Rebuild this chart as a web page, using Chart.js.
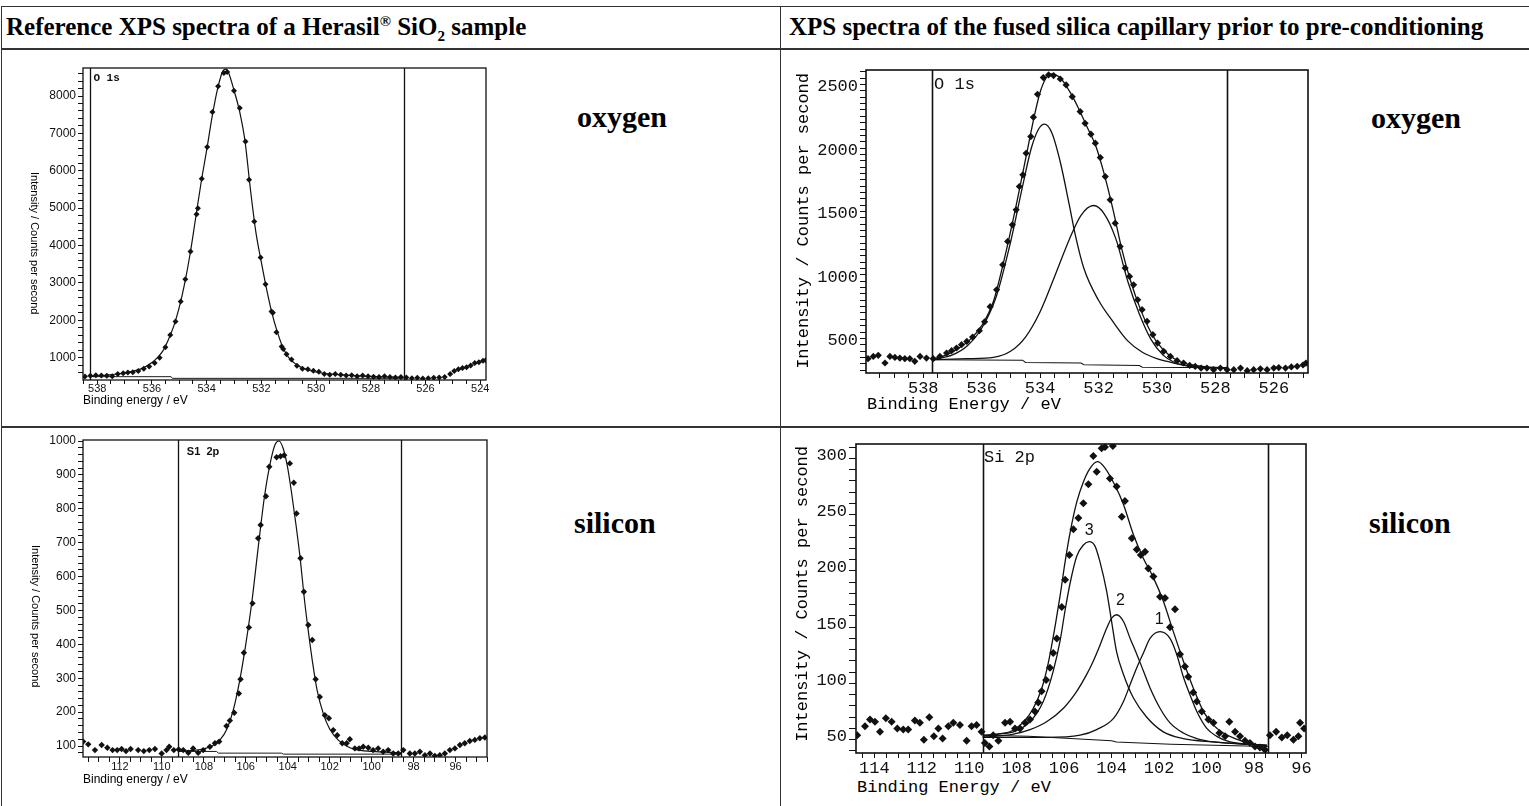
<!DOCTYPE html>
<html>
<head>
<meta charset="utf-8">
<script src="https://cdn.jsdelivr.net/npm/chart.js@4.4.1/dist/chart.umd.min.js"></script>
<style>
  body { margin: 0; background: #fff; width: 1529px; height: 806px; position: relative; overflow: hidden; }
  .rule { position: absolute; background: #333; }
  .head { position: absolute; font: bold 25px 'Liberation Serif', 'Times New Roman', serif; line-height: 25px; white-space: nowrap; color: #000; }
  .head sup, .head sub { font-size: 15px; line-height: 0; }
  .elem { position: absolute; font: bold 30px 'Liberation Serif', 'Times New Roman', serif; line-height: 30px; color: #000; }
  .plot { position: absolute; }
  .xt-s { position: absolute; font: 12px 'Liberation Sans', Arial, sans-serif; line-height: 12px; white-space: nowrap; }
  .yt-s { position: absolute; font: 11px 'Liberation Sans', Arial, sans-serif; line-height: 12px; writing-mode: vertical-rl; white-space: nowrap; }
  .xt-m { position: absolute; font: 17px 'Liberation Mono', 'DejaVu Sans Mono', monospace; line-height: 17px; white-space: nowrap; }
  .yt-m { position: absolute; font: 17px 'Liberation Mono', 'DejaVu Sans Mono', monospace; line-height: 18px; writing-mode: vertical-rl; transform: rotate(180deg); white-space: nowrap; }
</style>
</head>
<body>

<div class="rule" style="left:1px; top:6px; width:1528px; height:1px;"></div>
<div class="rule" style="left:1px; top:48px; width:1528px; height:2px;"></div>
<div class="rule" style="left:1px; top:426px; width:1528px; height:2px;"></div>
<div class="rule" style="left:1px; top:6px; width:1px; height:800px;"></div>
<div class="rule" style="left:780px; top:6px; width:1px; height:800px;"></div>

<div class="head" style="left:6px; top:14px;">Reference XPS spectra of a Herasil<sup>®</sup> SiO<sub>2</sub> sample</div>
<div class="head" style="left:789px; top:14px;">XPS spectra of the fused silica capillary prior to pre-conditioning</div>

<div class="elem" style="left:577px; top:102px;">oxygen</div>
<div class="elem" style="left:1371px; top:103px;">oxygen</div>
<div class="elem" style="left:574px; top:508px;">silicon</div>
<div class="elem" style="left:1369px; top:508px;">silicon</div>

<div class="plot" id="p1"><canvas id="c1"></canvas></div>
<div class="plot" id="p2"><canvas id="c2"></canvas></div>
<div class="plot" id="p3"><canvas id="c3"></canvas></div>
<div class="plot" id="p4"><canvas id="c4"></canvas></div>

<div class="yt-s" style="left:29px; top:172px;">Intensity / Counts per second</div>
<div class="xt-s" style="left:83px; top:394px;">Binding energy / eV</div>
<div class="yt-s" style="left:30px; top:545px;">Intensity / Counts per second</div>
<div class="xt-s" style="left:83px; top:773px;">Binding energy / eV</div>
<div class="yt-m" style="left:795px; top:73px;">Intensity / Counts per second</div>
<div class="xt-m" style="left:867px; top:396px;">Binding Energy / eV</div>
<div class="yt-m" style="left:794px; top:446px;">Intensity / Counts per second</div>
<div class="xt-m" style="left:857px; top:779px;">Binding Energy / eV</div>

<script>
// ---------- O 1s, Herasil reference (top left) ----------
const o1sRefPoints = [
  [538.45, 495], [538.25, 518], [538.05, 530], [537.85, 520], [537.65, 515], [537.45, 500],
  [537.25, 560], [537.05, 580], [536.88, 600], [536.7, 610], [536.5, 640], [536.3, 700],
  [536.1, 760], [535.9, 860], [535.72, 1000], [535.51, 1277], [535.33, 1607], [535.14, 1964],
  [534.95, 2500], [534.78, 3098], [534.59, 3839], [534.37, 4839], [534.32, 5000], [534.18, 5786],
  [533.98, 6634], [533.79, 7571], [533.58, 8259], [533.37, 8616], [533.25, 8643], [533.0, 8143],
  [532.79, 7679], [532.58, 6786], [532.45, 5759], [532.26, 4643], [532.03, 3679], [531.85, 2964],
  [531.63, 2232], [531.58, 2200], [531.45, 1679], [531.26, 1295], [531.2, 1230], [531.08, 1089],
  [530.9, 950], [530.7, 780], [530.5, 700], [530.3, 690], [530.1, 650], [529.9, 620],
  [529.7, 560], [529.5, 540], [529.3, 560], [529.1, 540], [528.9, 520], [528.7, 530],
  [528.5, 500], [528.3, 520], [528.1, 500], [527.9, 490], [527.7, 480], [527.5, 500],
  [527.3, 480], [527.1, 470], [526.9, 480], [526.7, 470], [526.5, 450], [526.3, 460],
  [526.1, 440], [525.9, 450], [525.7, 460], [525.5, 470], [525.3, 480], [525.1, 560],
  [524.95, 640], [524.8, 690], [524.65, 720], [524.5, 740], [524.35, 790], [524.2, 860],
  [524.05, 880], [523.9, 920], [523.8, 930]
];
const o1sRefFit = [
  [538.26, 500], [537.8, 525], [537.2, 570], [536.8, 620], [536.4, 700], [536.0, 870],
  [535.8, 1000], [535.6, 1180], [535.4, 1480], [535.2, 1850], [535.0, 2350], [534.8, 3000],
  [534.6, 3800], [534.4, 4750], [534.2, 5700], [534.0, 6550], [533.8, 7450], [533.6, 8200],
  [533.4, 8680], [533.3, 8720], [533.2, 8620], [533.0, 8150], [532.8, 7600], [532.6, 6800],
  [532.4, 5500], [532.2, 4350], [532.0, 3550], [531.8, 2800], [531.6, 2150], [531.4, 1650],
  [531.2, 1250], [531.0, 1000], [530.8, 860], [530.6, 760], [530.2, 650], [529.8, 590],
  [529.0, 540], [528.0, 500], [526.8, 470]
];
const o1sRefBackground = [[538.26, 491], [535.3, 491], [535.25, 446], [526.8, 446]];
const o1sRefWindow = [538.26, 526.8];
const o1sRefNotes = [[538.14, 8620, 'O 1s']];
const o1sRefXLabels = [538, 536, 534, 532, 530, 528, 526, 524];
const o1sRefYLabels = [1000, 2000, 3000, 4000, 5000, 6000, 7000, 8000];

// ---------- O 1s, fused silica capillary (top right) ----------
const o1sCapPoints = [
  [539.89, 390], [539.71, 408], [539.54, 416], [539.31, 356], [539.14, 408], [538.97, 400],
  [538.80, 395], [538.63, 390], [538.46, 390], [538.29, 369], [538.11, 408], [537.89, 395],
  [537.66, 390], [537.43, 408], [537.20, 434], [537.03, 453], [536.86, 474], [536.69, 500],
  [536.51, 526], [536.31, 560], [536.08, 610], [535.9, 680], [535.71, 800], [535.49, 933],
  [535.28, 1130], [535.11, 1314], [534.95, 1445], [534.82, 1563], [534.71, 1747], [534.59, 1839],
  [534.48, 2009], [534.32, 2140], [534.23, 2293], [534.09, 2474], [533.89, 2605], [533.71, 2626],
  [533.54, 2621], [533.31, 2594], [533.11, 2547], [532.90, 2455], [532.63, 2337], [532.46, 2245],
  [532.26, 2159], [532.11, 2088], [531.94, 1975], [531.77, 1825], [531.60, 1642], [531.43, 1458],
  [531.26, 1274], [531.09, 1104], [530.94, 1038], [530.80, 972], [530.66, 854], [530.51, 776],
  [530.34, 684], [530.14, 579], [529.98, 513], [529.77, 448], [529.54, 408], [529.31, 374],
  [529.09, 356], [528.88, 337], [528.69, 329], [528.49, 316], [528.29, 316], [528.06, 303],
  [527.83, 316], [527.60, 303], [527.37, 303], [527.14, 316], [526.91, 295], [526.69, 303],
  [526.46, 310], [526.23, 303], [526.00, 316], [525.83, 320], [525.6, 316], [525.4, 325],
  [525.2, 330], [525.0, 340], [524.9, 355]
];
const o1sCapFit = [
  [537.66, 388], [537.2, 420], [536.8, 470], [536.4, 540], [536.0, 650], [535.6, 840],
  [535.2, 1200], [534.8, 1620], [534.5, 1960], [534.2, 2300], [534.0, 2490], [533.8, 2600],
  [533.6, 2635], [533.3, 2600], [533.0, 2500], [532.7, 2370], [532.4, 2220], [532.1, 2070],
  [531.8, 1840], [531.5, 1560], [531.2, 1250], [530.9, 1000], [530.6, 800], [530.3, 640],
  [530.0, 520], [529.6, 420], [529.2, 365], [528.8, 340], [528.3, 325], [527.6, 318]
];
const o1sCapPeakA = [
  [537.66, 385], [537.0, 420], [536.5, 490], [536.0, 630], [535.5, 880], [535.0, 1320],
  [534.6, 1750], [534.3, 2050], [534.05, 2200], [533.85, 2238], [533.6, 2170], [533.3, 1930],
  [533.0, 1600], [532.8, 1370], [532.5, 1100], [532.0, 850], [531.5, 680], [531.0, 530],
  [530.5, 440], [530.0, 390], [529.5, 360], [529.0, 335], [528.5, 322], [527.6, 316]
];
const o1sCapPeakB = [
  [537.66, 382], [536.5, 390], [535.6, 400], [535.0, 450], [534.5, 560], [534.0, 760],
  [533.5, 1040], [533.0, 1330], [532.6, 1520], [532.17, 1597], [531.8, 1530], [531.4, 1330],
  [531.0, 1000], [530.6, 740], [530.2, 540], [529.8, 420], [529.4, 360], [529.0, 335],
  [528.5, 322], [527.6, 316]
];
const o1sCapBackground = [
  [537.7, 382], [534.6, 378], [534.5, 360], [532.6, 355], [532.5, 342], [530.6, 336],
  [530.5, 322], [527.6, 318]
];
const o1sCapWindow = [537.7, 527.6];
const o1sCapNotes = [[537.63, 2618, 'O 1s']];
const o1sCapXLabels = [538, 536, 534, 532, 530, 528, 526];
const o1sCapYLabels = [500, 1000, 1500, 2000, 2500];

// ---------- Si 2p, Herasil reference (bottom left) ----------
const si2pRefPoints = [
  [113.75, 113], [113.51, 105], [113.19, 88], [112.87, 103], [112.60, 95], [112.35, 88],
  [112.13, 88], [111.92, 91], [111.71, 85], [111.49, 91], [111.13, 88], [110.86, 85],
  [110.60, 88], [110.33, 91], [110.01, 78], [109.78, 88], [109.65, 98], [109.43, 88],
  [109.2, 90], [108.98, 88], [108.74, 80], [108.51, 93], [108.27, 80], [108.03, 88],
  [107.71, 98], [107.47, 108], [107.27, 113], [106.92, 159], [106.76, 175], [106.55, 198],
  [106.33, 255], [106.25, 297], [106.09, 375], [105.85, 450], [105.68, 521], [105.41, 713],
  [105.29, 752], [105.04, 837], [104.88, 924], [104.53, 952], [104.34, 955], [104.17, 958],
  [103.90, 934], [103.71, 877], [103.58, 786], [103.39, 654], [103.23, 555], [103.02, 457],
  [102.83, 413], [102.67, 297], [102.47, 245], [102.23, 191], [102.04, 182], [101.83, 147],
  [101.64, 132], [101.40, 108], [101.19, 108], [101.04, 120], [100.80, 93], [100.60, 93],
  [100.40, 98], [100.16, 95], [99.93, 88], [99.69, 93], [99.45, 83], [99.21, 88],
  [98.97, 78], [98.73, 78], [98.49, 88], [98.18, 78], [97.94, 78], [97.70, 83],
  [97.46, 73], [97.22, 78], [96.99, 71], [96.75, 73], [96.51, 78], [96.27, 88],
  [96.03, 93], [95.79, 103], [95.56, 108], [95.32, 115], [95.08, 118], [94.84, 123],
  [94.60, 125]
];
const si2pRefFit = [
  [109.22, 85], [108.5, 87], [108.0, 92], [107.6, 100], [107.2, 120], [106.9, 150],
  [106.6, 205], [106.3, 290], [106.0, 400], [105.7, 530], [105.4, 690], [105.1, 840],
  [104.8, 945], [104.6, 990], [104.42, 1000], [104.2, 975], [104.0, 920], [103.8, 840],
  [103.6, 750], [103.4, 650], [103.2, 530], [103.0, 430], [102.8, 340], [102.6, 265],
  [102.3, 195], [102.0, 150], [101.6, 118], [101.2, 100], [100.8, 90], [100.0, 84],
  [98.6, 80]
];
const si2pRefBackground = [[109.22, 84], [107.4, 84], [107.3, 79], [104.3, 79], [104.2, 76], [98.6, 76]];
const si2pRefWindow = [109.22, 98.6];
const si2pRefNotes = [[108.81, 985, 'S1  2p']];
const si2pRefXLabels = [112, 110, 108, 106, 104, 102, 100, 98, 96];
const si2pRefYLabels = [100, 200, 300, 400, 500, 600, 700, 800, 900, 1000];

// ---------- Si 2p, fused silica capillary (bottom right) ----------
const si2pCapPoints = [
  [114.72, 54], [114.39, 62], [114.18, 68], [113.97, 66], [113.76, 57], [113.51, 69],
  [113.27, 66], [113.03, 60], [112.78, 59], [112.57, 59], [112.29, 67], [112.08, 65],
  [111.91, 50], [111.68, 70], [111.49, 53], [111.30, 60], [111.12, 51], [110.88, 62],
  [110.67, 65], [110.39, 63], [110.11, 49], [109.90, 62], [109.69, 63], [109.48, 57],
  [109.34, 47], [109.15, 44], [108.99, 54], [108.77, 49], [108.49, 65], [108.28, 66],
  [108.07, 60], [107.86, 60], [107.65, 65], [107.44, 68], [107.23, 75], [107.09, 83],
  [106.95, 93], [106.76, 103], [106.60, 114], [106.46, 127], [106.31, 140], [106.10, 168],
  [105.96, 192], [105.78, 214], [105.61, 237], [105.40, 247], [105.19, 260], [104.98, 277],
  [104.77, 302], [104.63, 288], [104.42, 309], [104.28, 310], [104.07, 282], [103.95, 311],
  [103.79, 275], [103.57, 248], [103.44, 262], [103.15, 229], [102.94, 219], [102.77, 214],
  [102.59, 217], [102.45, 202], [102.24, 195], [101.96, 177], [101.75, 176], [101.54, 150],
  [101.33, 166], [101.12, 126], [100.91, 115], [100.77, 106], [100.56, 92], [100.41, 84],
  [100.20, 75], [99.92, 68], [99.71, 65], [99.46, 56], [99.22, 53], [99.04, 66],
  [98.80, 57], [98.59, 53], [98.38, 49], [98.17, 47], [97.96, 44], [97.75, 43],
  [97.54, 41], [97.33, 54], [97.07, 57], [96.83, 52], [96.60, 54], [96.34, 50],
  [96.13, 53], [96.06, 65], [95.89, 60]
];
const si2pCapFit = [
  [109.43, 54], [108.8, 55], [108.2, 58], [107.7, 66], [107.3, 78], [106.95, 95],
  [106.67, 118], [106.38, 151], [106.17, 178], [105.96, 208], [105.75, 234], [105.47, 261],
  [105.19, 279], [104.91, 291], [104.6, 297], [104.3, 292], [103.86, 276], [103.5, 259],
  [103.08, 232], [102.66, 211], [102.24, 194], [101.82, 173], [101.4, 146], [100.98, 120],
  [100.56, 96], [100.13, 75], [99.71, 63], [99.29, 56], [98.8, 51], [98.2, 47], [97.45, 44]
];
const si2pCapPeak3 = [
  [109.43, 53], [108.8, 55], [108.14, 57], [107.44, 66], [106.88, 84], [106.46, 111],
  [106.17, 138], [105.96, 165], [105.75, 189], [105.47, 213], [105.19, 223], [104.94, 226],
  [104.70, 222], [104.49, 208], [104.21, 182], [104.0, 155], [103.79, 128], [103.5, 108],
  [103.08, 87], [102.52, 70], [101.82, 57], [100.98, 51], [99.71, 48], [98.5, 46], [97.45, 45]
];
const si2pCapPeak2 = [
  [109.43, 52], [108.14, 55], [107.44, 59], [106.74, 66], [106.03, 78], [105.47, 93],
  [105.05, 108], [104.77, 120], [104.49, 134], [104.21, 149], [104.0, 158], [103.79, 161],
  [103.5, 155], [103.22, 140], [102.94, 126], [102.66, 111], [102.38, 96], [101.96, 78],
  [101.54, 65], [100.98, 56], [100.41, 51], [99.71, 48], [99.0, 47], [97.45, 45]
];
const si2pCapPeak1 = [
  [109.43, 52], [106.74, 52], [105.33, 54], [104.63, 59], [103.92, 69], [103.5, 84],
  [103.22, 99], [102.94, 114], [102.66, 127], [102.38, 140], [101.96, 146], [101.54, 140],
  [101.26, 126], [100.98, 106], [100.70, 90], [100.41, 75], [99.99, 60], [99.57, 53],
  [99.01, 48], [98.2, 46], [97.45, 45]
];
const si2pCapBackground = [[109.43, 54], [107.5, 53], [106.5, 52], [104.0, 49], [103.8, 48], [101.5, 46], [97.42, 44]];
const si2pCapWindow = [109.43, 97.42];
const si2pCapNotes = [[109.38, 308, 'Si 2p']];
const si2pCapPeakLabels = [[104.94, 236, '3'], [103.63, 174, '2'], [101.99, 157, '1']];
const si2pCapXLabels = [114, 112, 110, 108, 106, 104, 102, 100, 98, 96];
const si2pCapYLabels = [50, 100, 150, 200, 250, 300];

// ---------- drawing ----------
const INK = '#111';
const sansFont = "'Liberation Sans', Arial, sans-serif";
const monoFont = "'Liberation Mono', 'DejaVu Sans Mono', monospace";

function xy(arr) {
  return arr.map(([x, y]) => ({ x: x, y: y }));
}

// tick marks every `step` inside [min, max]
function marks(min, max, step) {
  const out = [];
  for (let k = Math.ceil(min / step); k * step <= max + 1e-9; k++) {
    out.push(Math.round(k * step * 1000) / 1000);
  }
  return out;
}

const framePlugin = {
  id: 'frame',
  afterDatasetsDraw(chart, args, opts) {
    const { ctx, chartArea: a, scales } = chart;
    const x = scales.x, y = scales.y;
    ctx.save();
    ctx.strokeStyle = INK;
    ctx.lineWidth = opts.lineWidth;
    ctx.strokeRect(a.left, a.top, a.right - a.left, a.bottom - a.top);
    opts.window.forEach((e) => {
      const px = Math.round(x.getPixelForValue(e)) + 0.5;
      ctx.beginPath();
      ctx.moveTo(px, a.top);
      ctx.lineTo(px, a.bottom);
      ctx.stroke();
    });
    ctx.fillStyle = INK;
    ctx.font = opts.noteFont;
    ctx.textAlign = 'left';
    ctx.textBaseline = 'top';
    opts.notes.forEach(([e, v, text]) => {
      ctx.fillText(text, x.getPixelForValue(e), y.getPixelForValue(v));
    });
    ctx.font = opts.peakFont || opts.noteFont;
    ctx.textAlign = 'center';
    ctx.textBaseline = 'middle';
    (opts.peakNotes || []).forEach(([e, v, text]) => {
      ctx.fillText(text, x.getPixelForValue(e), y.getPixelForValue(v));
    });
    ctx.restore();
  }
};

function lineSet(arr, width, curved) {
  return {
    data: xy(arr),
    showLine: true,
    pointRadius: 0,
    borderColor: INK,
    borderWidth: width,
    cubicInterpolationMode: curved ? 'monotone' : 'default',
    tension: 0,
    fill: false
  };
}

function makePanel(p) {
  const wrap = document.getElementById(p.id);
  const w = p.ml + (p.R - p.L) + p.mr;
  const h = p.mt + (p.B - p.T) + p.mb;
  wrap.style.left = (p.L - p.ml) + 'px';
  wrap.style.top = (p.T - p.mt) + 'px';
  const canvas = wrap.querySelector('canvas');
  canvas.width = w;
  canvas.height = h;
  canvas.style.width = w + 'px';
  canvas.style.height = h + 'px';

  const datasets = [{
    data: xy(p.points),
    showLine: false,
    pointStyle: 'rectRot',
    pointRadius: p.pointRadius,
    backgroundColor: INK,
    borderColor: INK,
    borderWidth: 0
  }];
  p.curves.forEach((c) => datasets.push(lineSet(c, p.lineWidth, true)));
  datasets.push(lineSet(p.background, p.lineWidth * 0.8, false));

  new Chart(canvas, {
    type: 'scatter',
    data: { datasets: datasets },
    options: {
      responsive: false,
      animation: false,
      devicePixelRatio: 1,
      events: [],
      layout: { padding: { left: 0, top: p.mt, right: p.mr, bottom: 0 } },
      plugins: {
        legend: { display: false },
        tooltip: { enabled: false },
        frame: {
          lineWidth: p.frameWidth,
          window: p.window,
          notes: p.notes,
          noteFont: p.noteFont,
          peakNotes: p.peakNotes,
          peakFont: p.peakFont
        }
      },
      scales: {
        x: {
          type: 'linear',
          reverse: true,
          min: p.xMin,
          max: p.xMax,
          afterBuildTicks: (axis) => { axis.ticks = marks(p.xMin, p.xMax, p.xMinor).map((v) => ({ value: v })); },
          afterFit: (axis) => { axis.height = p.mb; },
          ticks: {
            autoSkip: false,
            maxRotation: 0,
            minRotation: 0,
            padding: p.xPad,
            color: INK,
            font: p.xFont,
            callback: (v) => (p.xLabels.includes(v) ? String(v) : '')
          },
          grid: { drawOnChartArea: false, drawTicks: true, tickLength: p.xTick, tickColor: INK, tickWidth: 1 },
          border: { display: false }
        },
        y: {
          type: 'linear',
          min: p.yMin,
          max: p.yMax,
          afterBuildTicks: (axis) => { axis.ticks = marks(p.yMin, p.yMax, p.yMinor).map((v) => ({ value: v })); },
          afterFit: (axis) => { axis.width = p.ml; },
          ticks: {
            autoSkip: false,
            padding: 2,
            labelOffset: p.yLabelOffset,
            color: INK,
            font: p.yFont,
            callback: (v) => (p.yLabels.includes(v) ? String(v) : '')
          },
          grid: { drawOnChartArea: false, drawTicks: true, tickLength: p.yTick, tickColor: INK, tickWidth: 1 },
          border: { display: false }
        }
      }
    },
    plugins: [framePlugin]
  });
}

makePanel({
  id: 'p1', L: 83, T: 68, R: 486, B: 380, ml: 63, mt: 15, mr: 14, mb: 22,
  xMin: 523.79, xMax: 538.52, yMin: 402, yMax: 8750, xMinor: 0.5, yMinor: 200,
  xLabels: o1sRefXLabels, yLabels: o1sRefYLabels,
  points: o1sRefPoints, curves: [o1sRefFit], background: o1sRefBackground,
  window: o1sRefWindow, notes: o1sRefNotes, noteFont: 'bold 11px ' + monoFont,
  pointRadius: 3, lineWidth: 1.2, frameWidth: 1.3,
  xFont: { family: sansFont, size: 11 }, yFont: { family: sansFont, size: 12 },
  xTick: 4, yTick: 5, xPad: -2, yLabelOffset: 0
});

makePanel({
  id: 'p2', L: 866, T: 70, R: 1308, B: 373, ml: 60, mt: 15, mr: 14, mb: 24,
  xMin: 524.83, xMax: 539.96, yMin: 277, yMax: 2665, xMinor: 0.5, yMinor: 50,
  xLabels: o1sCapXLabels, yLabels: o1sCapYLabels,
  points: o1sCapPoints, curves: [o1sCapFit, o1sCapPeakA, o1sCapPeakB], background: o1sCapBackground,
  window: o1sCapWindow, notes: o1sCapNotes, noteFont: '17px ' + monoFont,
  pointRadius: 3.6, lineWidth: 1.3, frameWidth: 1.6,
  xFont: { family: monoFont, size: 17 }, yFont: { family: monoFont, size: 17 },
  xTick: 5, yTick: 6, xPad: 0, yLabelOffset: -4
});

makePanel({
  id: 'p3', L: 83, T: 440, R: 487, B: 757, ml: 63, mt: 15, mr: 14, mb: 22,
  xMin: 94.5, xMax: 113.76, yMin: 67.6, yMax: 1003, xMinor: 0.5, yMinor: 20,
  xLabels: si2pRefXLabels, yLabels: si2pRefYLabels,
  points: si2pRefPoints, curves: [si2pRefFit], background: si2pRefBackground,
  window: si2pRefWindow, notes: si2pRefNotes, noteFont: 'bold 11px ' + sansFont,
  pointRadius: 3.2, lineWidth: 1.2, frameWidth: 1.3,
  xFont: { family: sansFont, size: 11 }, yFont: { family: sansFont, size: 12 },
  xTick: 5, yTick: 5, xPad: -2, yLabelOffset: 0
});

makePanel({
  id: 'p4', L: 856, T: 444, R: 1306, B: 753, ml: 58, mt: 15, mr: 14, mb: 24,
  xMin: 95.81, xMax: 114.77, yMin: 38.2, yMax: 312.7, xMinor: 0.5, yMinor: 10,
  xLabels: si2pCapXLabels, yLabels: si2pCapYLabels,
  points: si2pCapPoints, curves: [si2pCapFit, si2pCapPeak3, si2pCapPeak2, si2pCapPeak1], background: si2pCapBackground,
  window: si2pCapWindow, notes: si2pCapNotes, noteFont: '17px ' + monoFont,
  peakNotes: si2pCapPeakLabels, peakFont: '16px ' + sansFont,
  pointRadius: 4, lineWidth: 1.3, frameWidth: 1.6,
  xFont: { family: monoFont, size: 17 }, yFont: { family: monoFont, size: 17 },
  xTick: 5, yTick: 7, xPad: 0, yLabelOffset: -3
});
</script>
</body>
</html>
